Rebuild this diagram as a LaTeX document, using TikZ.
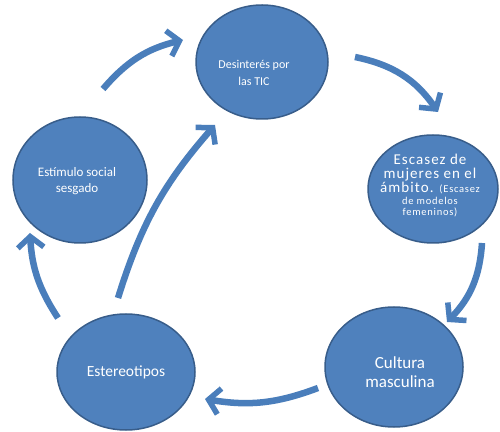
\documentclass[tikz,border=0pt]{standalone}
\usepackage{fontspec}
\setmainfont{Carlito}
\usetikzlibrary{shapes.geometric,arrows.meta}

\definecolor{bubblefill}{HTML}{4F81BD}
\definecolor{bubbleline}{HTML}{385D8A}
\definecolor{arrowblue}{HTML}{4A7EBB}

\begin{document}
\begin{tikzpicture}[x=1pt,y=1pt,
  bubble/.style={ellipse,draw=bubbleline,line width=1.5pt,fill=bubblefill,inner sep=0pt},
  bubble text/.style={text=white,align=center,inner sep=0pt},
  flow/.style={draw=arrowblue,line width=6.5pt,-{Straight Barb[length=11pt,width=26pt,line width=5.5pt]}}]
\useasboundingbox (0,0) rectangle (500,431);

%Shape: Ellipse [id:tic]
\node[bubble,minimum width=132pt,minimum height=114pt] (tic) at (262,369) {};
%Shape: Ellipse [id:esc]
\node[bubble,minimum width=130pt,minimum height=108pt] (esc) at (433,242) {};
%Shape: Ellipse [id:est]
\node[bubble,minimum width=134pt,minimum height=126pt] (est) at (80,251) {};
%Shape: Ellipse [id:ster]
\node[bubble,minimum width=138pt,minimum height=116pt] (ster) at (126,59) {};
%Shape: Ellipse [id:cult]
\node[bubble,minimum width=138pt,minimum height=120pt] (cult) at (394,64) {};

% Text Node
\node[bubble text,font=\fontsize{12}{17}\selectfont] (tic text) at (254,358) {Desinterés por\\las TIC};
% Text Node
\node[bubble text,font=\fontsize{15}{14}\selectfont\addfontfeature{LetterSpace=7}] (esc text) at (430,245)
  {Escasez de\\mujeres en el\\ámbito. {\fontsize{10.5}{11}\selectfont(Escasez}\\[-2pt]
   {\fontsize{10.5}{11}\selectfont de modelos}\\[-3pt]{\fontsize{10.5}{11}\selectfont femeninos)}};
% Text Node
\node[bubble text,font=\fontsize{13}{16}\selectfont] (est text) at (77,250) {Estímulo social\\sesgado};
% Text Node
\node[bubble text,font=\fontsize{15.5}{18}\selectfont] (ster text) at (126,59) {Estereotipos};
% Text Node
\node[bubble text,font=\fontsize{17}{19}\selectfont] (cult text) at (400,59) {Cultura\\masculina};

% arrow ends
\coordinate (a1s) at ([shift={(23,91)}]est.center);
\coordinate (a1e) at ([shift={(-79,22)}]tic.center);
\coordinate (a2s) at ([shift={(93,5)}]tic.center);
\coordinate (a2e) at ([shift={(5,77)}]esc.center);
\coordinate (a3s) at ([shift={(49,-54)}]esc.center);
\coordinate (a3e) at ([shift={(53,45)}]cult.center);
\coordinate (a4s) at ([shift={(-76,-21)}]cult.center);
\coordinate (a4e) at ([shift={(79,-27)}]ster.center);
\coordinate (a5s) at ([shift={(-68,54)}]ster.center);
\coordinate (a5e) at ([shift={(-50,-53)}]est.center);
\coordinate (a6s) at ([shift={(-8,74)}]ster.center);
\coordinate (a6e) at ([shift={(-47,-63)}]tic.center);

%Shape: Curved Arrow
\draw[flow] (a1s) to[bend left=18] (a1e);
\draw[flow] (a2s) to[bend left=22] (a2e);
\draw[flow] (a3s) to[bend left=20] (a3e);
\draw[flow] (a4s) to[bend left=15] (a4e);
\draw[flow] (a5s) to[bend left=15] (a5e);
\draw[flow] (a6s) to[bend left=12] (a6e);

\end{tikzpicture}
\end{document}
